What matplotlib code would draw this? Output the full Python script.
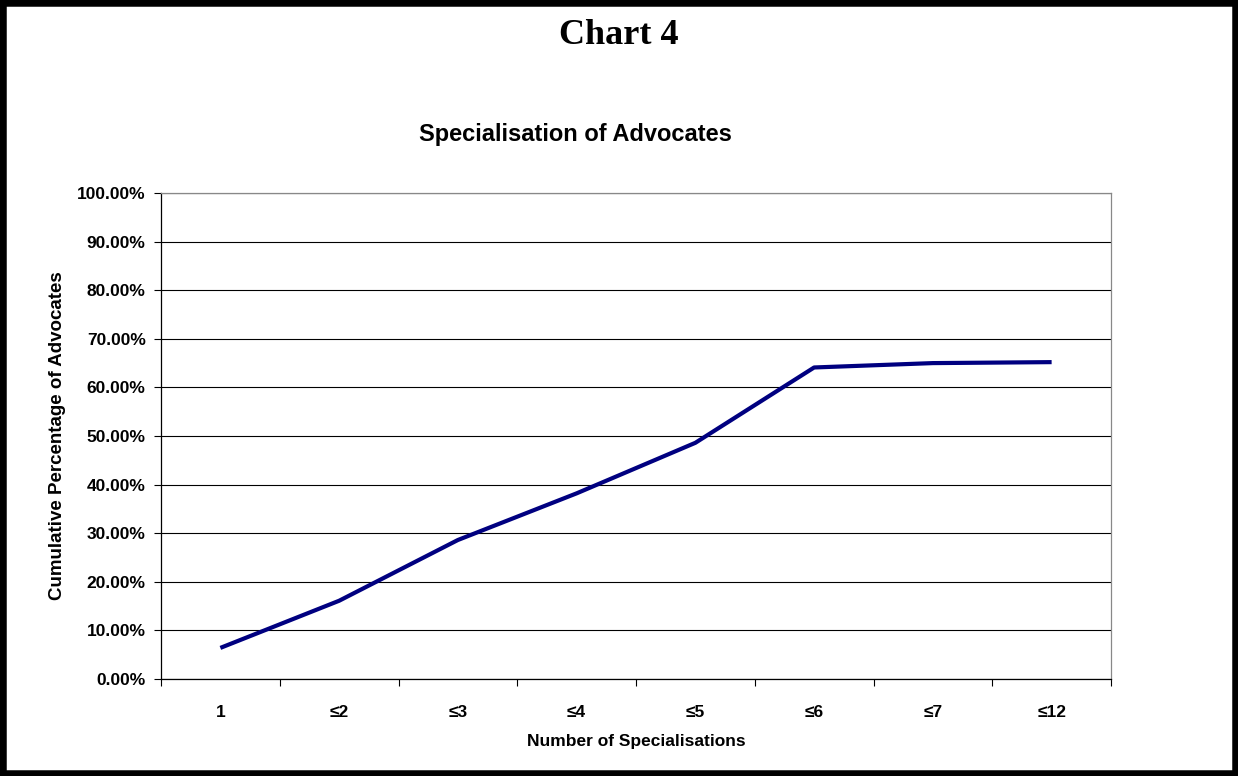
import matplotlib
matplotlib.use("Agg")
import matplotlib.pyplot as plt
from matplotlib.patches import Rectangle
from matplotlib.ticker import FixedLocator, PercentFormatter

categories = ["1", "\u22642", "\u22643", "\u22644", "\u22645", "\u22646", "\u22647", "\u226412"]
cumulative_pct = [6.4, 16.1, 28.6, 38.2, 48.6, 64.1, 65.0, 65.2]
y_ticks = [0, 10, 20, 30, 40, 50, 60, 70, 80, 90, 100]

plt.rcParams['font.family'] = ['Liberation Sans', 'DejaVu Sans']

fig = plt.figure(figsize=(12.38, 7.76), dpi=100)
ax = fig.add_axes([161/1238, 1 - 679/776, (1111 - 161)/1238, (679 - 193)/776])

x = list(range(len(categories)))
ax.plot(x, cumulative_pct, color="#000080", linewidth=3.0, solid_capstyle="butt", zorder=3)

ax.set_xlim(-0.5, len(categories) - 0.5)
ax.set_ylim(0, 100)
ax.set_yticks(y_ticks)
ax.yaxis.set_major_formatter(PercentFormatter(decimals=2))
ax.set_xticks(x)
ax.set_xticklabels(categories, fontweight="bold", fontsize=12.5)
ax.xaxis.set_minor_locator(FixedLocator([i - 0.5 for i in range(len(categories) + 1)]))
ax.tick_params(axis="x", which="major", length=0, pad=19)
ax.tick_params(axis="x", which="minor", length=5, width=0.8, direction="out", color="black")
ax.tick_params(axis="y", length=5, width=0.8, direction="out", pad=6)
for lbl in ax.get_yticklabels():
    lbl.set_fontweight("bold")
    lbl.set_fontsize(12.5)

ax.grid(axis="y", color="black", linewidth=0.8)
ax.set_axisbelow(True)
ax.spines["left"].set_color("black")
ax.spines["bottom"].set_color("black")
ax.spines["top"].set_color("#888888")
ax.spines["right"].set_color("#888888")
for s in ax.spines.values():
    s.set_linewidth(0.9)

ax.set_xlabel("Number of Specialisations", fontsize=12.5, fontweight="bold", labelpad=10)
ax.set_ylabel("Cumulative Percentage of Advocates", fontsize=13.5, fontweight="bold", labelpad=8)

fig.text(0.5, 1 - 35/776, "Chart 4", ha="center", va="center",
         fontsize=26, fontweight="bold", family=["Liberation Serif", "DejaVu Serif"])
fig.text(575/1238, 1 - 134/776, "Specialisation of Advocates", ha="center", va="center",
         fontsize=17, fontweight="bold")

fig.patches.append(Rectangle((0, 0), 1, 1, transform=fig.transFigure, fill=False,
                             edgecolor="black", linewidth=9, zorder=10))

fig.savefig("out.png", dpi=100)
